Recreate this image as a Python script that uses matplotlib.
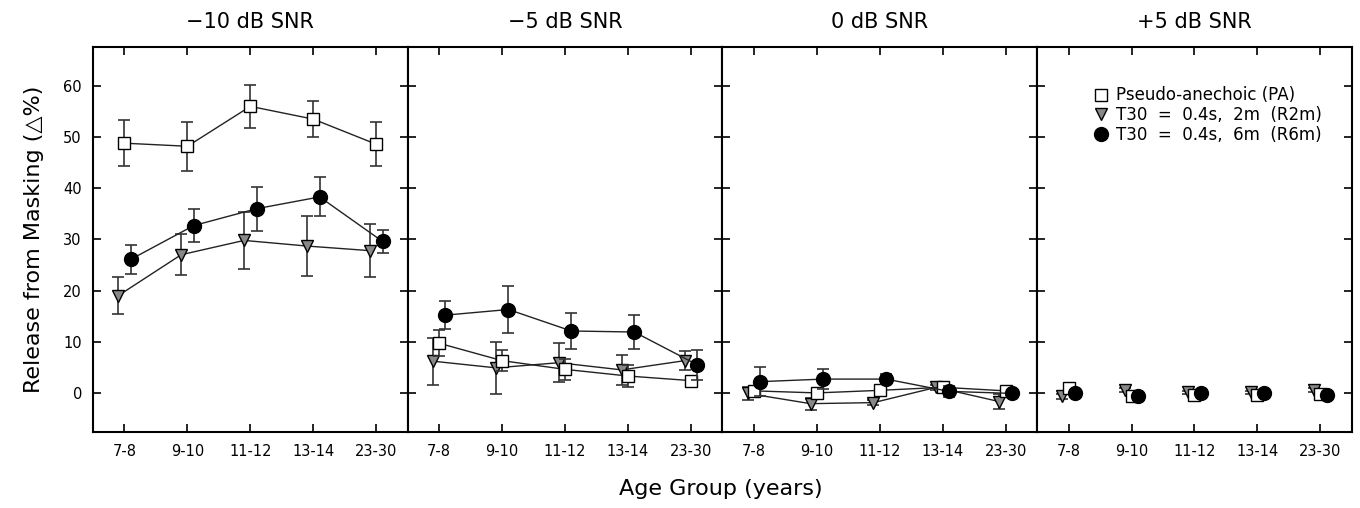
import numpy as np
import matplotlib
matplotlib.use('Agg')
from matplotlib import pyplot as plt

# age groups and panel titles
ages = ['7-8', '9-10', '11-12', '13-14', '23-30']
snrs = ['\u221210 dB SNR', '\u22125 dB SNR', '0 dB SNR', '+5 dB SNR']

# mean release from masking, one row per SNR panel
pa_mean = [[48.8, 48.2, 56.0, 53.5, 48.6],
           [9.7, 6.3, 4.6, 3.3, 2.4],
           [0.4, 0.0, 0.5, 1.1, 0.4],
           [0.9, -0.6, -0.4, -0.4, -0.3]]
pa_err = [[4.5, 4.8, 4.2, 3.5, 4.3],
          [2.5, 2.0, 2.0, 2.2, 0.8],
          [0.8, 0.8, 0.6, 0.5, 0.5],
          [0.5, 0.5, 0.4, 0.4, 0.4]]

r2m_mean = [[19.0, 27.0, 29.8, 28.7, 27.8],
            [6.2, 4.9, 5.9, 4.5, 6.3],
            [-0.1, -2.1, -1.9, 1.1, -1.7],
            [-0.7, 0.6, 0.1, 0.1, 0.6]]
r2m_err = [[3.6, 4.0, 5.5, 5.9, 5.2],
           [4.6, 5.1, 3.8, 2.9, 1.9],
           [1.3, 1.2, 0.5, 0.5, 1.4],
           [0.5, 0.4, 0.3, 0.3, 0.4]]

r6m_mean = [[26.1, 32.7, 36.0, 38.3, 29.6],
            [15.2, 16.3, 12.1, 11.9, 5.5],
            [2.2, 2.7, 2.7, 0.3, -0.1],
            [0.0, -0.6, 0.0, 0.0, -0.4]]
r6m_err = [[2.9, 3.3, 4.3, 3.8, 2.2],
           [2.8, 4.5, 3.5, 3.3, 2.9],
           [2.9, 2.0, 1.0, 1.1, 0.4],
           [0.6, 0.4, 0.3, 0.3, 0.3]]

x = np.arange(len(ages))

fig, axes = plt.subplots(1, 4, figsize=(13.6, 5.08), dpi=100, sharey=True)
plt.subplots_adjust(left=0.0684, right=0.994, bottom=0.15, top=0.9075, wspace=0)

for i, ax in enumerate(axes):
    ax.errorbar(x, pa_mean[i], yerr=pa_err[i], fmt='s-', color='#222222', mfc='white', mec='black',
                ms=9, lw=1, ecolor='#333333', elinewidth=1.2, capsize=4, capthick=1.2,
                label='Pseudo-anechoic (PA)', zorder=3)
    ax.errorbar(x - 0.1, r2m_mean[i], yerr=r2m_err[i], fmt='v-', color='#222222', mfc='#888888', mec='black',
                ms=9, lw=1, ecolor='#333333', elinewidth=1.2, capsize=4, capthick=1.2,
                label='T30  =  0.4s,  2m  (R2m)', zorder=2)
    ax.errorbar(x + 0.1, r6m_mean[i], yerr=r6m_err[i], fmt='o-', color='#222222', mfc='black', mec='black',
                ms=10, lw=1, ecolor='#333333', elinewidth=1.2, capsize=4, capthick=1.2,
                label='T30  =  0.4s,  6m  (R6m)', zorder=4)
    ax.set_xlim(-0.5, 4.5)
    ax.set_ylim(-7.6, 67.6)
    ax.set_xticks(x)
    ax.set_xticklabels(ages, fontsize=10.5)
    ax.set_yticks([0, 10, 20, 30, 40, 50, 60])
    ax.tick_params(direction='in', top=True, right=True, left=True, length=6, width=1.2)
    ax.tick_params(axis='x', pad=9)
    ax.set_title(snrs[i], fontsize=15, pad=14)
    for s in ax.spines.values():
        s.set_linewidth(1.5)
    if i > 0:
        ax.tick_params(labelleft=False)

axes[0].tick_params(axis='y', labelsize=10.5, pad=8)
axes[0].set_ylabel('Release from Masking (\u25b3%)', fontsize=16, labelpad=14)
fig.text(0.53, 0.025, 'Age Group (years)', ha='center', fontsize=16)

h, l = axes[3].get_legend_handles_labels()
hs = [hh[0] for hh in h]
for hh in hs:
    hh.set_linestyle('none')
axes[3].legend(hs, l, loc='upper right', bbox_to_anchor=(0.925, 0.915), frameon=False, fontsize=12,
               handletextpad=0.4, labelspacing=0.1, borderaxespad=0, handlelength=1)

plt.savefig('out.png', dpi=100)
